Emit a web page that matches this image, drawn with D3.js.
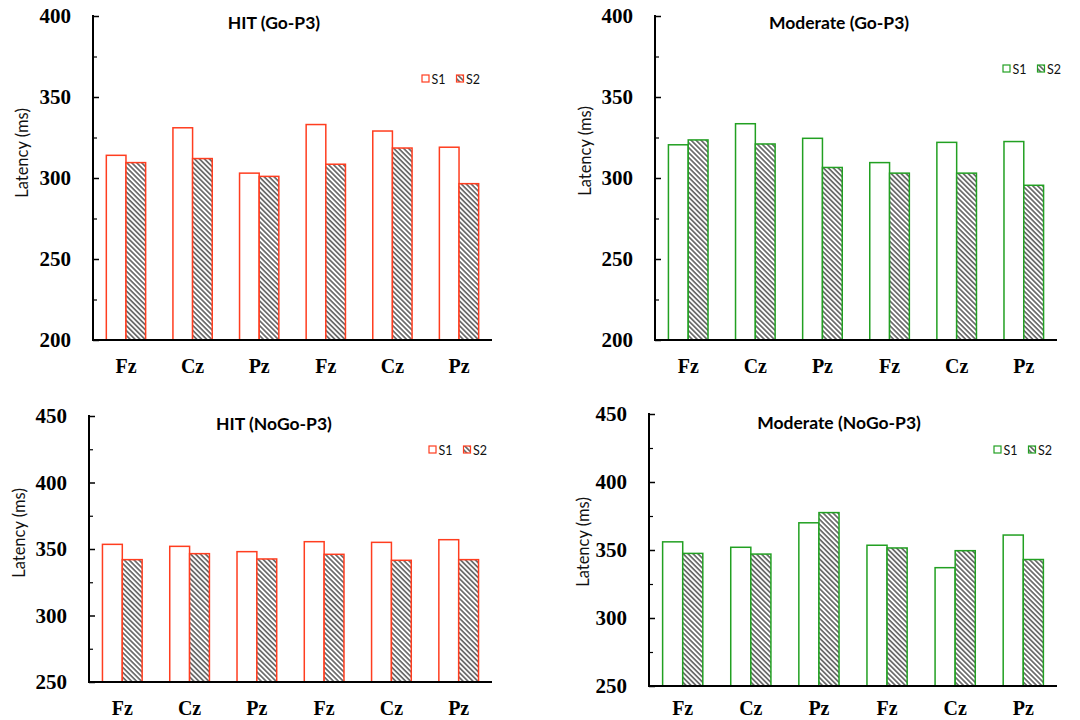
<!DOCTYPE html>
<html>
<head>
<meta charset="utf-8">
<script src="https://cdn.jsdelivr.net/npm/d3@7"></script>
<style>
  body { margin: 0; background: #fff; }
  svg { display: block; }
</style>
</head>
<body>
<script>
// electrode sites, two sessions each
const sites = ["Fz", "Cz", "Pz", "Fz", "Cz", "Pz"];
const seriesNames = ["S1", "S2"];

const hitGoS1 = [314, 331, 303, 333, 329, 319];
const hitGoS2 = [309.5, 312, 301, 308.5, 318.5, 296.5];
const modGoS1 = [320.5, 333.5, 324.5, 309.5, 322, 322.5];
const modGoS2 = [323.5, 321, 306.5, 303, 303, 295.5];
const hitNoGoS1 = [353.5, 352, 348, 355.5, 355, 357];
const hitNoGoS2 = [342, 346.5, 342.5, 346, 341.5, 342];
const modNoGoS1 = [356, 352, 370, 353.5, 337, 361];
const modNoGoS2 = [347.5, 347, 377.5, 351.5, 349.5, 343];

const goTicks = [200, 250, 300, 350, 400];
const noGoTicks = [250, 300, 350, 400, 450];

const RED = "#ff3d1f", GREEN = "#22a022";
const SANS = "Lato, 'Open Sans', sans-serif";
const SERIF = "'Liberation Serif', 'Times New Roman', serif";

const panels = [
  { title: "HIT (Go-P3)", s1: hitGoS1, s2: hitGoS2, ticks: goTicks, color: RED,
    x0: 93, x1: 492, yTop: 16, yBot: 340, tx: 274, ty: 29, lx: 422, ly: 75, labX: 22, labY: 153, catY: 373 },
  { title: "Moderate (Go-P3)", s1: modGoS1, s2: modGoS2, ticks: goTicks, color: GREEN,
    x0: 655, x1: 1057, yTop: 16, yBot: 340, tx: 839, ty: 29, lx: 1003, ly: 65, labX: 585, labY: 151, catY: 373 },
  { title: "HIT (NoGo-P3)", s1: hitNoGoS1, s2: hitNoGoS2, ticks: noGoTicks, color: RED,
    x0: 89, x1: 492, yTop: 416, yBot: 682, tx: 274, ty: 430, lx: 429, ly: 446, labX: 19, labY: 533, catY: 715 },
  { title: "Moderate (NoGo-P3)", s1: modNoGoS1, s2: modNoGoS2, ticks: noGoTicks, color: GREEN,
    x0: 649, x1: 1057, yTop: 414, yBot: 686, tx: 839, ty: 429, lx: 994, ly: 446, labX: 583, labY: 542, catY: 715 }
];

const svg = d3.select("body").append("svg")
  .attr("width", 1080).attr("height", 720);

const defs = svg.append("defs");
const pat = defs.append("pattern")
  .attr("id", "hatch")
  .attr("patternUnits", "userSpaceOnUse")
  .attr("width", 3.5).attr("height", 3.5)
  .attr("patternTransform", "rotate(-45)");
pat.append("rect").attr("width", 3.5).attr("height", 3.5).attr("fill", "#fff");
pat.append("line")
  .attr("x1", 0.9).attr("y1", 0).attr("x2", 0.9).attr("y2", 3.5)
  .attr("stroke", "#3a3a3a").attr("stroke-width", 1.3);

panels.forEach(p => {
  const g = svg.append("g");
  const domain = [p.ticks[0], p.ticks[p.ticks.length - 1]];
  const y = d3.scaleLinear().domain(domain).range([p.yBot, p.yTop]);
  const x = d3.scaleBand().domain(d3.range(sites.length))
    .range([p.x0, p.x1]).paddingInner(0.41).paddingOuter(0.2);
  const xs = d3.scaleBand().domain(seriesNames).range([0, x.bandwidth()]);

  const rows = sites.map((s, i) => ({ i, vals: [p.s1[i], p.s2[i]] }));

  const grp = g.selectAll(".grp").data(rows).enter().append("g")
    .attr("transform", d => `translate(${x(d.i)},0)`);
  grp.selectAll("rect")
    .data(d => d.vals.map((v, k) => ({ v, k })))
    .enter().append("rect")
    .attr("x", d => xs(seriesNames[d.k]))
    .attr("y", d => y(d.v))
    .attr("width", xs.bandwidth())
    .attr("height", d => y(domain[0]) - y(d.v))
    .attr("fill", d => d.k === 0 ? "#fff" : "url(#hatch)")
    .attr("stroke", p.color)
    .attr("stroke-width", 1.5);

  // y axis with inward ticks, minor ticks between
  const minor = d3.range(domain[0] + 25, domain[1], 50);
  g.append("g").attr("transform", `translate(${p.x0},0)`)
    .call(d3.axisRight(y).tickValues(p.ticks).tickSize(6).tickFormat(""))
    .call(a => a.selectAll("line").attr("stroke", "#000").attr("stroke-width", 1.5))
    .call(a => a.select(".domain").remove());
  g.append("g").attr("transform", `translate(${p.x0},0)`)
    .call(d3.axisRight(y).tickValues(minor).tickSize(4).tickFormat(""))
    .call(a => a.selectAll("line").attr("stroke", "#000").attr("stroke-width", 1.2))
    .call(a => a.select(".domain").remove());
  g.append("line")
    .attr("x1", p.x0).attr("x2", p.x0)
    .attr("y1", y(domain[1]) - 1).attr("y2", y(domain[0]))
    .attr("stroke", "#000").attr("stroke-width", 2);
  g.append("line")
    .attr("x1", p.x0 - 1).attr("x2", p.x1)
    .attr("y1", y(domain[0])).attr("y2", y(domain[0]))
    .attr("stroke", "#000").attr("stroke-width", 2);

  g.selectAll(".yt").data(p.ticks).enter().append("text")
    .attr("x", p.x0 - 22).attr("y", d => y(d)).attr("dy", "0.35em")
    .attr("text-anchor", "end")
    .attr("font-family", SERIF)
    .attr("font-weight", "bold").attr("font-size", 21)
    .text(d => d);

  g.selectAll(".xt").data(sites).enter().append("text")
    .attr("x", (d, i) => x(i) + x.bandwidth() / 2).attr("y", p.catY)
    .attr("text-anchor", "middle")
    .attr("font-family", SERIF)
    .attr("font-weight", "bold").attr("font-size", 20)
    .text(d => d);

  g.append("text")
    .attr("transform", `translate(${p.labX},${p.labY}) rotate(-90)`)
    .attr("dy", "0.35em")
    .attr("text-anchor", "middle")
    .attr("font-family", SANS).attr("font-size", 16.5)
    .attr("fill", "#111")
    .text("Latency (ms)");

  g.append("text")
    .attr("x", p.tx).attr("y", p.ty)
    .attr("text-anchor", "middle")
    .attr("font-family", SANS).attr("font-weight", "bold")
    .attr("font-size", 17.5)
    .text(p.title);

  const leg = g.selectAll(".leg").data(seriesNames).enter().append("g")
    .attr("transform", (d, i) => `translate(${p.lx + i * 34.5},${p.ly})`);
  leg.append("rect")
    .attr("width", 7).attr("height", 7)
    .attr("fill", (d, i) => i === 0 ? "#fff" : "url(#hatch)")
    .attr("stroke", p.color).attr("stroke-width", 1.2);
  leg.append("text")
    .attr("x", 9.5).attr("y", 8.5)
    .attr("font-family", SANS).attr("font-size", 12.5)
    .attr("fill", "#111")
    .text(d => d);
});
</script>
</body>
</html>
